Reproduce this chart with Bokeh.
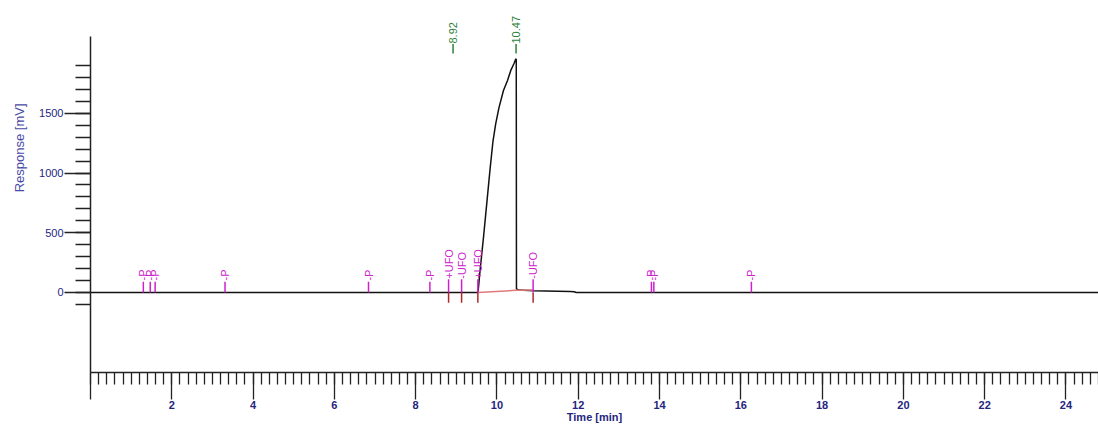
import math
from bokeh.plotting import figure
from bokeh.models import (FixedTicker, LabelSet, ColumnDataSource, Range1d,
                          LinearAxis, Title)
from bokeh.core.properties import value
from bokeh.embed import file_html
from bokeh.resources import INLINE

# ---- data ----
trace_t = [0.0, 9.53, 9.545, 9.584, 9.668, 9.749, 9.83, 9.90, 9.97, 10.05,
           10.16, 10.26, 10.34, 10.42, 10.465, 10.475, 10.48, 10.53, 10.9,
           11.5, 11.8, 11.9, 11.95, 24.8]
trace_mv = [0, 0, 40, 182, 458, 744, 1030, 1260, 1414, 1548,
            1691, 1775, 1859, 1917, 1956, 1950, 30, 20, 14,
            10, 8, 6, 0, 0]

baseline_t = [9.53, 10.47, 10.89]
baseline_mv = [0, 18, 20]

p_times = [1.30, 1.47, 1.59, 3.31, 6.84, 8.35, 13.80, 13.86, 16.26]
p_labels = ["-P"] * len(p_times)

ufo_times = [8.81, 9.13, 9.53, 10.89]
ufo_labels = ["+UFO", "-UFO", "+UFO", "-UFO"]

peak_times = [8.92, 10.47]
peak_labels = ["8.92", "10.47"]

x_major_ticks = [0, 2, 4, 6, 8, 10, 12, 14, 16, 18, 20, 22, 24]
y_major_ticks = [0, 500, 1000, 1500]

x_title = "Time [min]"
y_title = "Response [mV]"

# ---- colours / fonts ----
FONT = "Liberation Sans"
NAVY = "#25257e"
MAGENTA = "#cc22cc"
DARKRED = "#b02828"
GREEN = "#2f7f3a"
AXIS = "#222222"

p = figure(width=1098, height=425, output_backend="svg", toolbar_location=None,
           x_range=Range1d(0, 24.8), y_range=Range1d(-670, 2143),
           min_border_left=90, min_border_right=0, min_border_top=36,
           min_border_bottom=53)
p.outline_line_color = None
p.grid.visible = False


def style_axis(ax):
    ax.major_tick_in = 0
    ax.minor_tick_in = 0
    ax.axis_line_width = 1.5
    ax.axis_line_color = AXIS
    ax.major_tick_line_color = AXIS
    ax.minor_tick_line_color = AXIS
    ax.major_tick_line_width = 1.3
    ax.minor_tick_line_width = 1.3
    ax.major_label_text_font = FONT
    ax.major_label_text_font_size = "11px"
    ax.major_label_text_color = NAVY


# x axis
xa = p.xaxis[0]
style_axis(xa)
xa.ticker = FixedTicker(ticks=x_major_ticks,
                        minor_ticks=[round(i * 0.2, 1) for i in range(0, 125)])
xa.major_label_overrides = {0: " "}
xa.major_tick_out = 27
xa.minor_tick_out = 12
xa.major_label_standoff = -1
xa.major_label_text_font_style = "bold"
xa.axis_label = x_title
xa.axis_label_standoff = -3
xa.axis_label_text_font = FONT
xa.axis_label_text_font_size = "11px"
xa.axis_label_text_font_style = "bold"
xa.axis_label_text_color = NAVY

# y axis
ya = p.yaxis[0]
style_axis(ya)
ya.ticker = FixedTicker(ticks=y_major_ticks, minor_ticks=list(range(-100, 2000, 100)))
ya.major_tick_out = 26
ya.minor_tick_out = 15
ya.major_label_standoff = 1

# y title, placed above the centre like the reference
p.add_layout(Title(text=y_title, align="right", offset=67, standoff=19,
                   text_font=FONT, text_font_size="13px",
                   text_font_style="normal", text_color="#4a4aa6"), "left")

# peak retention-time labels on a top axis
pa = LinearAxis(ticker=FixedTicker(ticks=peak_times),
                major_label_overrides={t: s for t, s in zip(peak_times, peak_labels)})
pa.axis_line_color = None
pa.major_tick_line_color = None
pa.minor_tick_line_color = None
pa.major_tick_out = 0
pa.major_tick_in = 0
pa.minor_tick_out = 0
pa.minor_tick_in = 0
pa.major_label_orientation = "vertical"
pa.major_label_standoff = -7
pa.major_label_text_font = FONT
pa.major_label_text_font_size = "11px"
pa.major_label_text_color = GREEN
p.add_layout(pa, "above")

# signal
p.line(trace_t, trace_mv, line_color="#111111", line_width=1.5)
# integration baseline
p.line(baseline_t, baseline_mv, line_color="#e07a7a", line_width=1.5)

# P events
src_p = ColumnDataSource(dict(x=p_times, y0=[0] * len(p_times),
                              y1=[90] * len(p_times), ty=[100] * len(p_times),
                              text=p_labels))
p.segment(x0="x", y0="y0", x1="x", y1="y1", source=src_p,
          line_color=MAGENTA, line_width=1.5)
p.add_layout(LabelSet(x="x", y="ty", text="text", source=src_p,
                      angle=math.pi / 2, text_align="left", text_baseline="middle",
                      text_font=value(FONT), text_font_size="11px",
                      text_color=MAGENTA))

# UFO events
src_u = ColumnDataSource(dict(x=ufo_times, y0=[0] * len(ufo_times),
                              y1=[110] * len(ufo_times), yd=[-86] * len(ufo_times),
                              ty=[115] * len(ufo_times), text=ufo_labels))
p.segment(x0="x", y0="y0", x1="x", y1="yd", source=src_u,
          line_color=DARKRED, line_width=1.5)
p.segment(x0="x", y0="y0", x1="x", y1="y1", source=src_u,
          line_color=MAGENTA, line_width=1.5)
p.add_layout(LabelSet(x="x", y="ty", text="text", source=src_u,
                      angle=math.pi / 2, text_align="left", text_baseline="middle",
                      text_font=value(FONT), text_font_size="11px",
                      text_color=MAGENTA))

# peak tick dashes
src_k = ColumnDataSource(dict(x=peak_times, y0=[2000] * 2, y1=[2080] * 2))
p.segment(x0="x", y0="y0", x1="x", y1="y1", source=src_k,
          line_color=GREEN, line_width=1.5)

open("out.html", "w").write(file_html(p, INLINE))
